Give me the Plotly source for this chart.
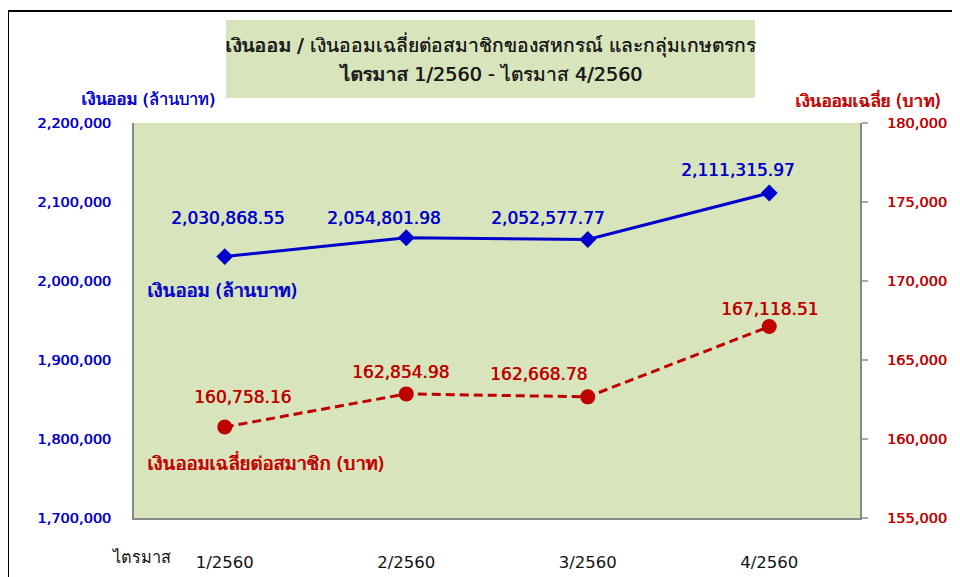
import plotly.graph_objects as go

quarters = ["1/2560", "2/2560", "3/2560", "4/2560"]
savings = [2030868.55, 2054801.98, 2052577.77, 2111315.97]
avg_savings = [160758.16, 162854.98, 162668.78, 167118.51]
left_ticks = [1700000, 1800000, 1900000, 2000000, 2100000, 2200000]
right_ticks = [155000, 160000, 165000, 170000, 175000, 180000]

BLUE = "#0000CC"
RED = "#C00000"
BG = "#D8E4BC"
INK = "#1a1a1a"
FONT = "DejaVu Sans, Tahoma, sans-serif"

OFF = 8  # browser body margin
W, H = 960 - OFF, 577 - OFF
# plot area in screen pixels
SL, SR, ST, SB = 134, 860, 123, 518
L, R, T, B = SL - OFF, SR - OFF, ST - OFF, SB - OFF


def px(x):
    return (x - SL) / (SR - SL)


def py(y):
    return (SB - y) / (SB - ST)


def fnt(size, color, heavy=True):
    # slight horizontal shadow to mimic the heavier ClearType rendering
    d = dict(family=FONT, size=size, color=color)
    if heavy:
        d["shadow"] = f"0.5px 0px 0px {color}"
    return d


fig = go.Figure()
fig.add_trace(go.Scatter(
    x=quarters, y=savings, mode="lines+markers", name="เงินออม (ล้านบาท)",
    line=dict(color=BLUE, width=3),
    marker=dict(symbol="diamond", size=13, color=BLUE),
    yaxis="y", hoverinfo="x+y",
))
fig.add_trace(go.Scatter(
    x=quarters, y=avg_savings, mode="lines+markers", name="เงินออมเฉลี่ยต่อสมาชิก (บาท)",
    line=dict(color=RED, width=3, dash="9px,5px"),
    marker=dict(symbol="circle", size=15, color=RED),
    yaxis="y2", hoverinfo="x+y",
))

annotations = []
blue_shift = [(3, 39), (-22, 20), (-40, 21), (-31, 23)]
for q, v, (dx, dy) in zip(quarters, savings, blue_shift):
    annotations.append(dict(x=q, y=v, xref="x", yref="y", text=f"{v:,.2f}",
                            showarrow=False, xshift=dx, yshift=dy,
                            xanchor="center", yanchor="middle",
                            font=fnt(17, BLUE)))
red_shift = [(18, 30), (-6, 22), (-49, 23), (0, 18)]
for q, v, (dx, dy) in zip(quarters, avg_savings, red_shift):
    annotations.append(dict(x=q, y=v, xref="x", yref="y2", text=f"{v:,.2f}",
                            showarrow=False, xshift=dx, yshift=dy,
                            xanchor="center", yanchor="middle",
                            font=fnt(17, RED)))


def note(text, x, y, size, color, xanchor="center", heavy=True):
    annotations.append(dict(x=px(x), y=py(y), xref="paper", yref="paper",
                            text=text, showarrow=False, xanchor=xanchor,
                            yanchor="middle", font=fnt(size, color, heavy)))


# series name labels
note("เงินออม (ล้านบาท)", 145, 290, 18.5, BLUE, "left")
note("เงินออมเฉลี่ยต่อสมาชิก (บาท)", 145, 462, 18.5, RED, "left")
# axis titles
note("เงินออม (ล้านบาท)", 148, 100, 16.5, BLUE)
note("เงินออมเฉลี่ย (บาท)", 868, 100, 17, RED)
# title
note("เงินออม / เงินออมเฉลี่ยต่อสมาชิกของสหกรณ์ และกลุ่มเกษตรกร", 490, 45, 19.2, INK)
note("ไตรมาส 1/2560 - ไตรมาส 4/2560", 490, 74, 19.2, INK)
# x-axis prefix
note("ไตรมาส", 141, 557, 16.3, "#111111", heavy=False)

shapes = [
    # title box
    dict(type="rect", xref="paper", yref="paper", x0=px(226), x1=px(755),
         y0=py(98), y1=py(20), fillcolor=BG, line=dict(width=0), layer="below"),
    # outer frame
    dict(type="rect", xref="paper", yref="paper", x0=px(8), x1=px(990),
         y0=py(600), y1=py(11), line=dict(color="#000000", width=2), layer="below"),
]

fig.update_layout(
    width=W, height=H,
    margin=dict(l=L, r=W - R, t=T, b=H - B, autoexpand=False),
    paper_bgcolor="white", plot_bgcolor=BG,
    showlegend=False,
    font=dict(family=FONT),
    annotations=annotations, shapes=shapes,
    xaxis=dict(type="category", range=[-0.5, 3.5], showgrid=False, zeroline=False,
               showline=True, linecolor="#888888", linewidth=2, ticks="",
               tickfont=dict(family=FONT, size=16.5, color="#111111"),
               ticklabelstandoff=28),
    yaxis=dict(range=[1700000, 2200000], tickvals=left_ticks, tickformat=",d",
               showgrid=False, zeroline=False, showline=True, linecolor="#888888",
               linewidth=2, ticks="", ticklabelstandoff=18,
               tickfont=fnt(14.5, BLUE)),
    yaxis2=dict(range=[155000, 180000], tickvals=right_ticks, tickformat=",d",
                overlaying="y", side="right", showgrid=False, zeroline=False,
                showline=True, linecolor="#888888", linewidth=2,
                ticks="outside", ticklen=22, tickcolor="rgba(0,0,0,0)",
                minor=dict(ticks="outside", ticklen=6, tickcolor="#AAAAAA",
                           tickwidth=2, tick0=155000, dtick=5000),
                tickfont=fnt(14.5, RED)),
)

fig.write_html("out.html")
